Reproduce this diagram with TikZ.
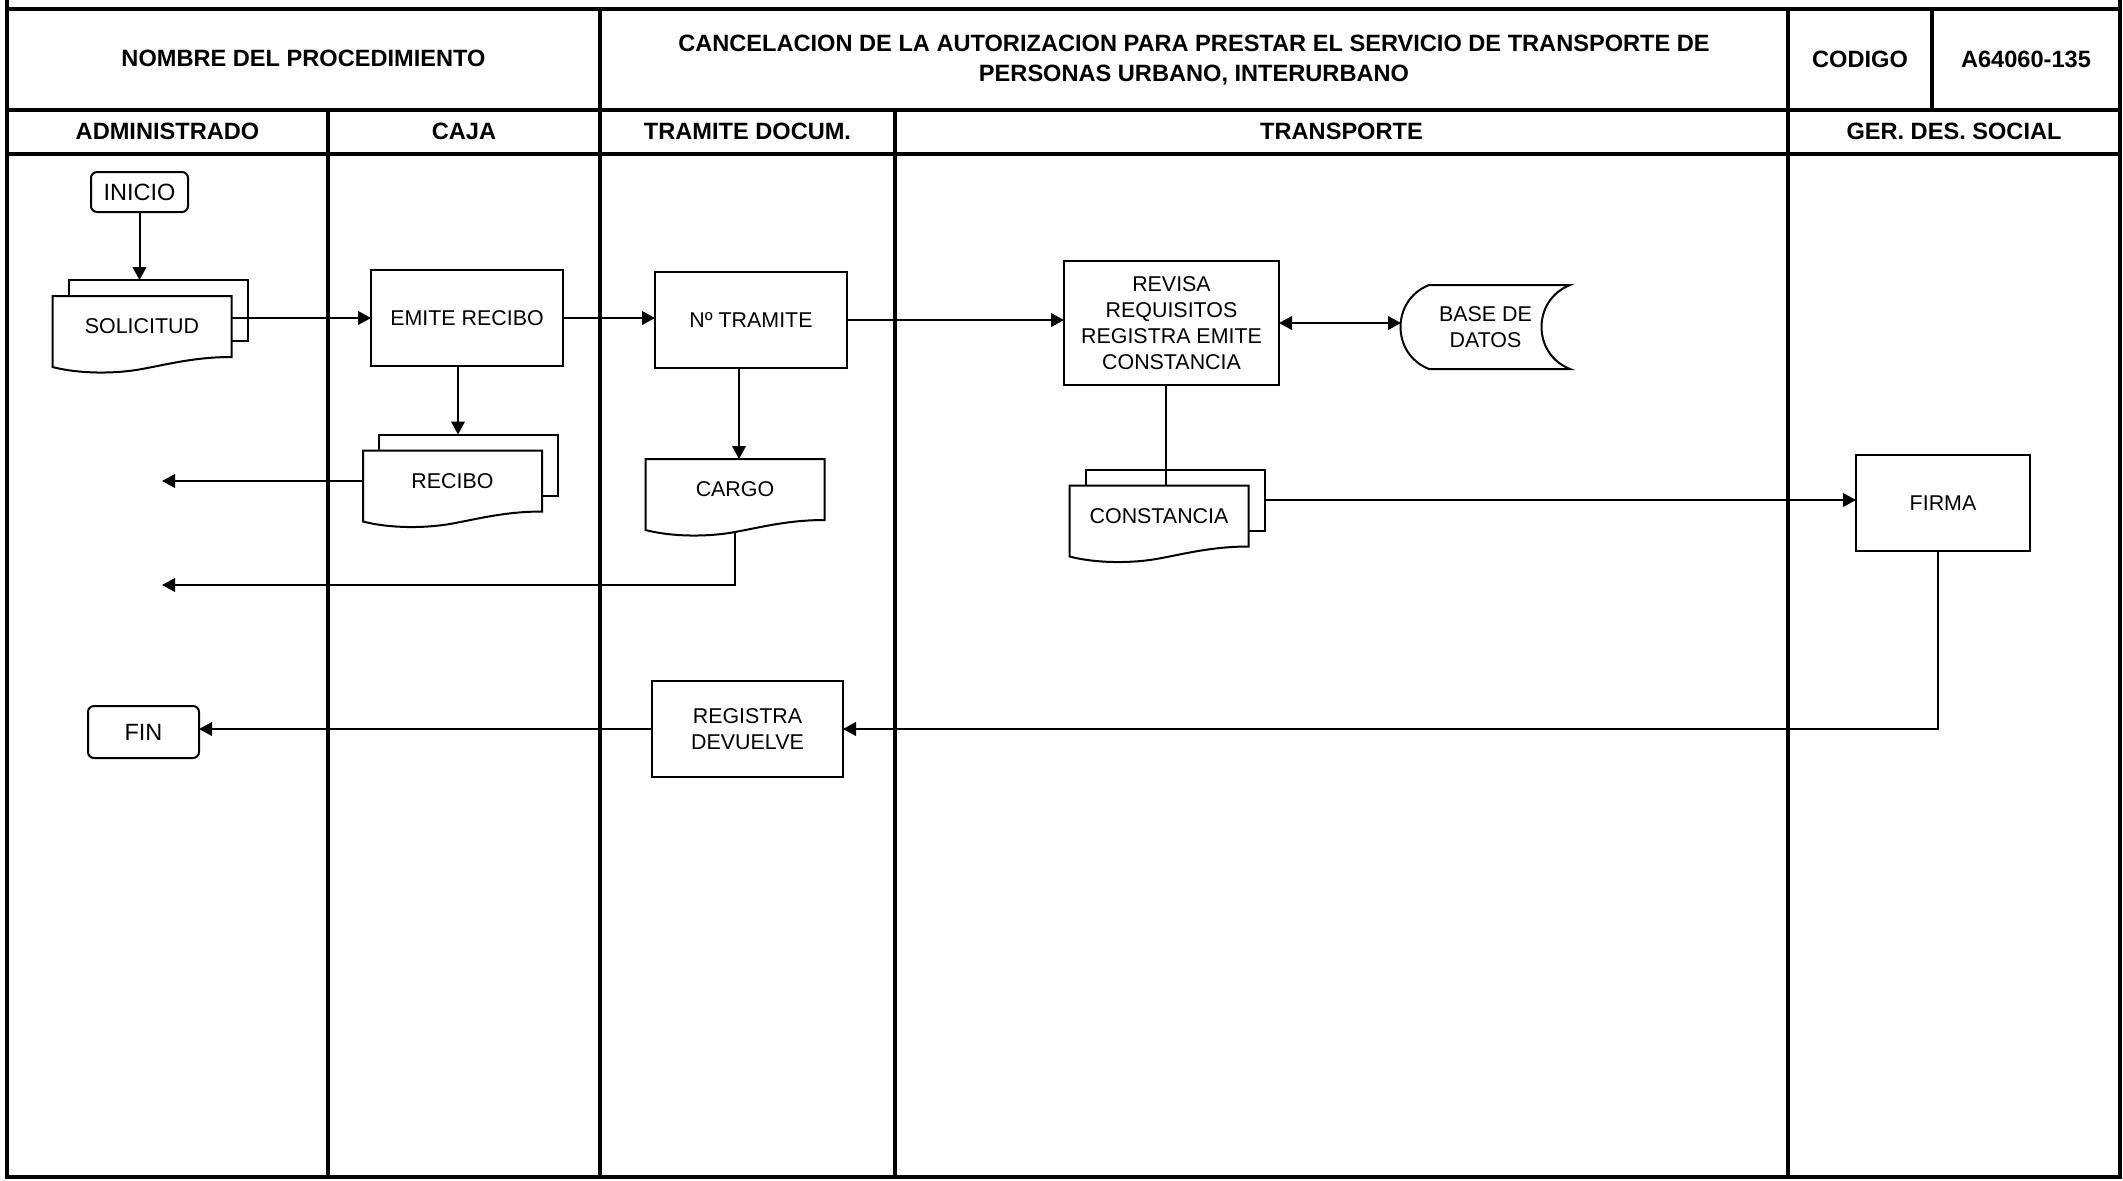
\documentclass[tikz,border=0pt]{standalone}
\usepackage{fontspec}
\setmainfont{Liberation Sans}
\usetikzlibrary{calc,arrows.meta}
\pgfdeclarelayer{bg}
\pgfsetlayers{bg,main}
\newcommand\regfont{\fontsize{10.7}{13}\selectfont}
\newcommand\termfont{\fontsize{11.75}{14}\selectfont}
\newcommand\hdrfont{\fontsize{11.8}{15}\selectfont\bfseries}
\newcommand\docoutline[1]{%
  \filldraw[thinline,fill=white] (#1.north west) -- (#1.north east) -- (#1.south east)
   .. controls ($(#1.south west)!0.8!(#1.south east)$) and ($(#1.south west)!0.65!(#1.south east)+(0,7)$) .. ($(#1.south)+(0,12)$)
   .. controls ($(#1.south west)!0.35!(#1.south east)+(0,17)$) and ($(#1.south west)!0.15!(#1.south east)+(0,17)$) .. ($(#1.south west)+(0,10)$) -- cycle;}
\newcommand\backoutline[1]{%
  \filldraw[thinline,fill=white] (#1.north west) rectangle (#1.south east);}
\begin{document}
\begin{tikzpicture}[x=0.5pt,y=-0.5pt,
  border/.style={line width=2pt},
  thinline/.style={line width=1pt},
  proc/.style={draw, thinline, fill=white, inner sep=0pt, outer sep=0pt, align=center, font=\regfont},
  term/.style={proc, rounded corners=3pt, font=\termfont},
  docnode/.style={inner sep=0pt, outer sep=0pt, align=center, font=\regfont, minimum width=89.5pt, minimum height=30.5pt},
  hdr/.style={font=\hdrfont, align=center, inner sep=0pt},
  arr/.style={thinline, -{Triangle[length=6.5pt,width=6.8pt]}},
  dblarr/.style={thinline, {Triangle[length=6.5pt,width=6.8pt]}-{Triangle[length=6.5pt,width=6.8pt]}},
  link/.style={thinline}
]
\useasboundingbox (0,0) rectangle (2123,1180);

% ---- table frame ----
\draw[border] (7,0) -- (7,1177);
\draw[border] (2120,0) -- (2120,1177);
\draw[border] (5,8.5) -- (2122,8.5);
\draw[border] (5,109.5) -- (2122,109.5);
\draw[border] (5,153.5) -- (2122,153.5);
\draw[border] (5,1177) -- (2122,1177);
\draw[border] (600,8.5) -- (600,1177);
\draw[border] (1788,8.5) -- (1788,1177);
\draw[border] (1932,8.5) -- (1932,109.5);
\draw[border] (328,109.5) -- (328,1177);
\draw[border] (895,109.5) -- (895,1177);

% ---- header texts ----
\node[hdr] (nombre) at (303.5,58) {NOMBRE DEL PROCEDIMIENTO};
\node[hdr] (titulo) at (1194,60) {CANCELACION DE LA AUTORIZACION PARA PRESTAR EL SERVICIO DE TRANSPORTE DE\\PERSONAS URBANO, INTERURBANO};
\node[hdr] (codigo) at (1860,59) {CODIGO};
\node[hdr] (codval) at (2026,59) {A64060-135};
\node[hdr] (l1) at (167.5,131) {ADMINISTRADO};
\node[hdr] (l2) at (464,131) {CAJA};
\node[hdr] (l3) at (747.5,131) {TRAMITE DOCUM.};
\node[hdr] (l4) at (1341.5,131) {TRANSPORTE};
\node[hdr] (l5) at (1954,131) {GER. DES. SOCIAL};

% ---- process nodes ----
\node[term, minimum width=48.5pt, minimum height=20pt] (inicio) at (139.5,192) {INICIO};
\node[term, minimum width=55.5pt, minimum height=26pt] (fin) at (143.5,732) {FIN};
\node[proc, minimum width=96pt, minimum height=48pt] (emite) at (467,318) {EMITE RECIBO};
\node[proc, minimum width=96pt, minimum height=48pt] (tram) at (751,320) {Nº TRAMITE};
\node[proc, minimum width=107.5pt, minimum height=62pt] (revisa) at (1171.5,323) {REVISA\\REQUISITOS\\REGISTRA EMITE\\CONSTANCIA};
\node[proc, minimum width=87pt, minimum height=48pt] (firma) at (1943,503) {FIRMA};
\node[proc, minimum width=95.5pt, minimum height=48pt] (registra) at (747.5,729) {REGISTRA\\DEVUELVE};
\node[inner sep=0pt, outer sep=0pt, align=center, font=\regfont, minimum width=84.5pt, minimum height=42pt] (base) at (1485.5,327) {BASE DE\\DATOS};

% ---- documents ----
\node[docnode] (solB) at (158,310.5) {};
\node[docnode] (sol) at (142,326.5) {SOLICITUD};
\node[docnode] (recB) at (468.5,465) {};
\node[docnode] (rec) at (452.5,481) {RECIBO};
\node[docnode] (cargo) at (735,489.5) {CARGO};
\node[docnode] (conB) at (1175,500) {};
\node[docnode] (con) at (1159,516) {CONSTANCIA};

\begin{pgfonlayer}{bg}
  \backoutline{solB}
  \docoutline{sol}
  \backoutline{recB}
  \docoutline{rec}
  \docoutline{cargo}
  \backoutline{conB}
  \docoutline{con}
  \filldraw[thinline, fill=white]
    ($(base.north west)+(28,0)$) -- (base.north east)
    .. controls ($(base.north east)+(-38,15)$) and ($(base.south east)+(-38,-15)$) .. (base.south east)
    -- ($(base.south west)+(28,0)$)
    .. controls ($(base.south west)+(-10,-15)$) and ($(base.north west)+(-10,15)$) .. cycle;
\end{pgfonlayer}

% ---- connectors ----
\draw[arr] (inicio.south) -- (inicio.south |- solB.north);
\draw[arr] (sol.east |- emite.west) -- (emite.west);
\draw[arr] (emite.east) -- (emite.east -| tram.west);
\draw[arr] (tram.east) -- (tram.east -| revisa.west);
\draw[dblarr] (revisa.east) -- (revisa.east -| base.west);

\coordinate (e1) at ($(emite.south)+(-9,0)$);
\draw[arr] (e1) -- (e1 |- recB.north);
\coordinate (recout) at (162,481);
\draw[arr] (rec.west) -- (recout);

\coordinate (t1) at ($(tram.south)+(-12,0)$);
\draw[arr] (t1) -- (t1 |- cargo.north);
\coordinate (cargoout) at (162,585);
\draw[arr] ($(cargo.south)+(0,12)$) |- (cargoout);

\coordinate (rv) at ($(revisa.south)+(-6,0)$);
\draw[link] (rv) -- (rv |- con.north);
\draw[arr] (conB.east) -- (conB.east -| firma.west);

\coordinate (f1) at ($(firma.south)+(-5,0)$);
\draw[arr] (f1) |- (registra.east);
\draw[arr] (registra.west) -- (registra.west -| fin.east);

\end{tikzpicture}
\end{document}
